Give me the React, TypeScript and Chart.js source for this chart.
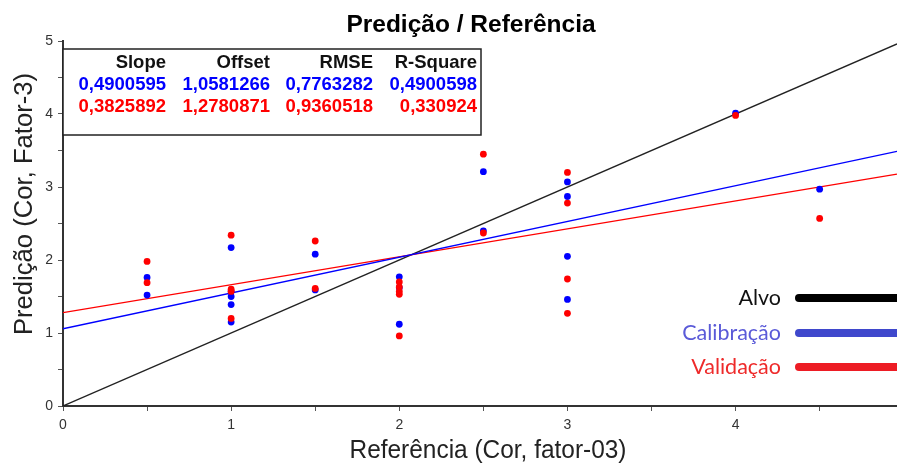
import React, { useEffect, useRef } from "react";
import { Chart, registerables } from "chart.js";

Chart.register(...registerables);

// Calibração (blue points)
const calX = [0.5, 0.5, 1, 1, 1, 1, 1, 1.5, 1.5, 2, 2, 2, 2.5, 2.5, 3, 3, 3, 3, 4, 4.5];
const calY = [1.76, 1.52, 2.17, 1.57, 1.5, 1.39, 1.15, 2.08, 1.59, 1.77, 1.62, 1.12, 3.21, 2.4, 3.07, 2.87, 2.05, 1.46, 4.01, 2.97];
// Validação (red points)
const valX = [0.5, 0.5, 1, 1, 1, 1, 1.5, 1.5, 2, 2, 2, 2, 2, 2.5, 2.5, 3, 3, 3, 3, 4, 4.5];
const valY = [1.98, 1.69, 2.34, 1.6, 1.57, 1.2, 2.26, 1.61, 1.7, 1.63, 1.57, 1.53, 0.96, 3.45, 2.37, 3.2, 2.78, 1.74, 1.27, 3.98, 2.57];

// regression statistics table
const statHeaders = ["Slope", "Offset", "RMSE", "R-Square"];
const calStats = ["0,4900595", "1,0581266", "0,7763282", "0,4900598"];
const valStats = ["0,3825892", "1,2780871", "0,9360518", "0,330924"];
const calSlope = 0.4900595;
const calOffset = 1.0581266;
const valSlope = 0.3825892;
const valOffset = 1.2780871;

const legendLabels = ["Alvo", "Calibração", "Validação"];
const xTickLabels = ["0", "1", "2", "3", "4"];
const yTickLabels = ["0", "1", "2", "3", "4", "5"];

const X_MIN = 0;
const X_MAX = 4.96;
const Y_MIN = 0;
const Y_MAX = 5;

const ARIAL = "'Liberation Sans', Arial, sans-serif";

function fitText(ctx: CanvasRenderingContext2D, text: string, x: number, y: number, width: number) {
  const w = ctx.measureText(text).width;
  const k = Math.min(1.2, width / w);
  ctx.save();
  ctx.translate(x, y);
  ctx.scale(k, 1);
  ctx.textAlign = "center";
  ctx.fillText(text, 0, 0);
  ctx.restore();
}

const overlay = {
  id: "overlay",
  afterDraw(chart: any) {
    const ctx = chart.ctx as CanvasRenderingContext2D;
    const area = chart.chartArea;
    ctx.save();
    // title
    ctx.fillStyle = "#000";
    ctx.font = `bold 24.5px ${ARIAL}`;
    ctx.textAlign = "center";
    ctx.textBaseline = "alphabetic";
    ctx.fillText("Predição / Referência", 471, 32);

    // axis titles (condensed)
    ctx.fillStyle = "#222";
    ctx.font = `26px ${ARIAL}`;
    fitText(ctx, "Referência (Cor, fator-03)", 488, 458, 277);
    ctx.save();
    ctx.translate(32, 204);
    ctx.rotate(-Math.PI / 2);
    fitText(ctx, "Predição (Cor, Fator-3)", 0, 0, 262);
    ctx.restore();

    // stats table
    const bx = area.left;
    const by = 49;
    ctx.fillStyle = "#fff";
    ctx.fillRect(bx, by, 481 - bx, 135 - by);
    ctx.strokeStyle = "#222";
    ctx.lineWidth = 1.5;
    ctx.strokeRect(bx, by, 481 - bx, 135 - by);
    const colRight = [166, 270, 373, 477];
    ctx.font = `bold 18.5px ${ARIAL}`;
    ctx.textAlign = "right";
    statHeaders.forEach((h, i) => {
      ctx.fillStyle = "#111";
      ctx.fillText(h, colRight[i], 68);
      ctx.fillStyle = "#0000ff";
      ctx.fillText(calStats[i], colRight[i], 90);
      ctx.fillStyle = "#ff0000";
      ctx.fillText(valStats[i], colRight[i], 112);
    });

    // legend
    const legColors = ["#000000", "#3f48cc", "#ed1c24"];
    const legText = ["#111111", "#5a5ad8", "#ee2a2a"];
    const legY = [298, 333, 367];
    ctx.font = `21.5px Lato, 'Noto Sans', sans-serif`;
    ctx.textBaseline = "middle";
    legendLabels.forEach((l, i) => {
      ctx.fillStyle = legText[i];
      ctx.textAlign = "right";
      ctx.fillText(l, 781, legY[i]);
      ctx.strokeStyle = legColors[i];
      ctx.lineWidth = 8;
      ctx.lineCap = "round";
      ctx.beginPath();
      ctx.moveTo(799, legY[i]);
      ctx.lineTo(905, legY[i]);
      ctx.stroke();
    });
    ctx.restore();
  },
};

export default function App() {
  const ref = useRef<HTMLCanvasElement | null>(null);
  useEffect(() => {
    document.body.style.margin = "0";
    const canvas = ref.current!;
    const lineData = (s: number, o: number) => [
      { x: X_MIN, y: o + s * X_MIN },
      { x: X_MAX, y: o + s * X_MAX },
    ];
    const chart = new Chart(canvas, {
      type: "scatter",
      data: {
        datasets: [
          {
            label: "Validação pts",
            data: valX.map((x, i) => ({ x, y: valY[i] })),
            backgroundColor: "#ff0000",
            borderWidth: 0,
            pointRadius: 3.4,
          },
          {
            label: "Calibração pts",
            data: calX.map((x, i) => ({ x, y: calY[i] })),
            backgroundColor: "#0000ff",
            borderWidth: 0,
            pointRadius: 3.4,
          },
          {
            label: "Calibração",
            data: lineData(calSlope, calOffset),
            showLine: true,
            borderColor: "#0000ff",
            borderWidth: 1.3,
            pointRadius: 0,
          },
          {
            label: "Validação",
            data: lineData(valSlope, valOffset),
            showLine: true,
            borderColor: "#ff0000",
            borderWidth: 1.3,
            pointRadius: 0,
          },
          {
            label: "Alvo",
            data: [
              { x: X_MIN, y: X_MIN },
              { x: X_MAX, y: X_MAX },
            ],
            showLine: true,
            borderColor: "#222222",
            borderWidth: 1.3,
            pointRadius: 0,
          },
        ],
      },
      options: {
        responsive: false,
        animation: false,
        layout: { autoPadding: false, padding: { top: 41, right: 0, bottom: 0, left: 0 } },
        plugins: {
          legend: { display: false },
          title: { display: false },
          tooltip: { enabled: false },
        },
        scales: {
          x: {
            type: "linear",
            min: X_MIN,
            max: X_MAX,
            afterFit: (s: any) => {
              s.height = 58;
              s.paddingLeft = 0;
              s.paddingRight = 0;
            },
            ticks: {
              stepSize: 0.5,
              includeBounds: false,
              autoSkip: false,
              maxRotation: 0,
              padding: 6,
              color: "#333",
              font: { family: ARIAL, size: 14 },
              callback: (v: any) => {
                const n = Number(v);
                return Number.isInteger(n) ? xTickLabels[n] ?? "" : "";
              },
            },
            grid: { drawOnChartArea: false, drawTicks: true, tickLength: 5, color: "#555" },
            border: { display: true, color: "#333", width: 2 },
          },
          y: {
            type: "linear",
            min: Y_MIN,
            max: Y_MAX,
            afterFit: (s: any) => {
              s.width = 63;
              s.paddingTop = 0;
              s.paddingBottom = 0;
            },
            ticks: {
              stepSize: 0.5,
              autoSkip: false,
              padding: 5,
              color: "#333",
              font: { family: ARIAL, size: 14 },
              callback: (v: any) => {
                const n = Number(v);
                return Number.isInteger(n) ? yTickLabels[n] ?? "" : "";
              },
            },
            grid: { drawOnChartArea: false, drawTicks: true, tickLength: 5, color: "#555" },
            border: { display: true, color: "#333", width: 2 },
          },
        },
      },
      plugins: [overlay],
    });
    return () => chart.destroy();
  }, []);
  return <canvas ref={ref} width={897} height={464} style={{ display: "block" }} />;
}
